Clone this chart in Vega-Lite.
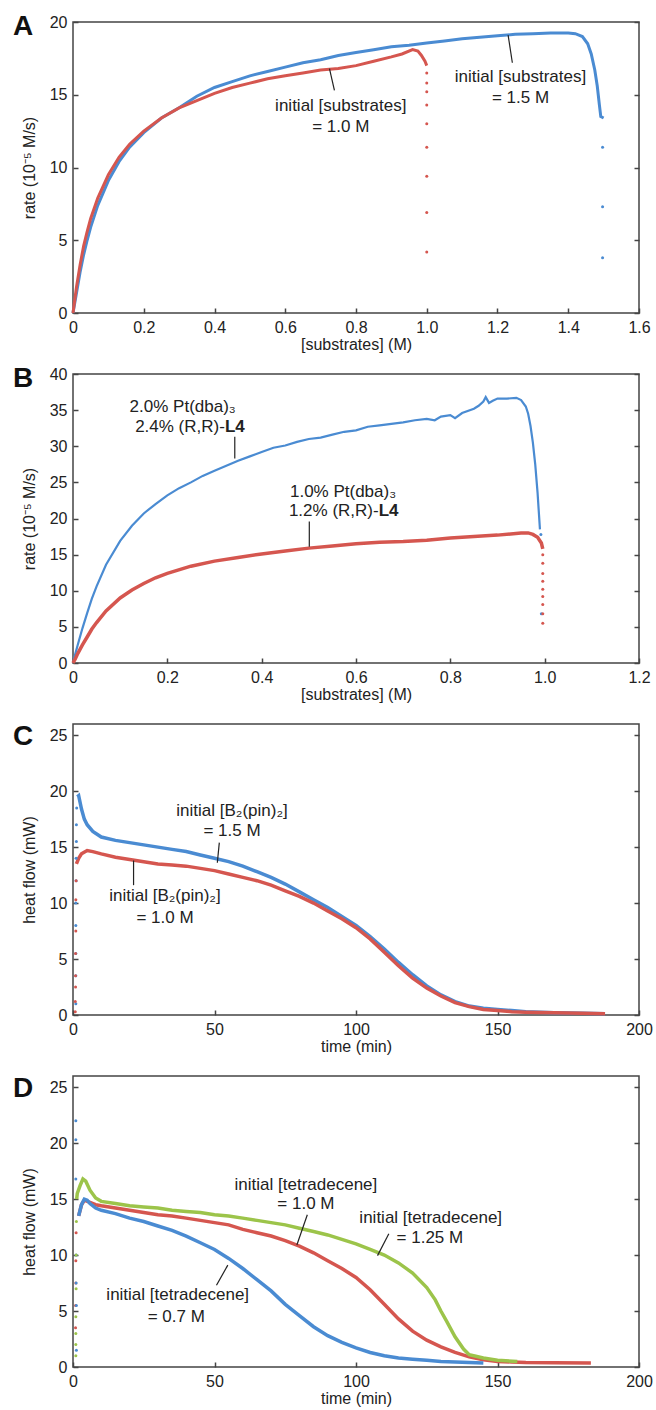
{
  "$schema": "https://vega.github.io/schema/vega-lite/v6.json",
  "padding": {"left": 12, "top": 12, "right": 0, "bottom": 0},
  "background": "white",
  "config": {
    "font": "Liberation Sans",
    "view": {"stroke": "#444", "strokeWidth": 1.5},
    "axis": {"grid": false, "domain": false, "labelFontSize": 16, "labelColor": "#222", "titleFontSize": 16, "titleFontWeight": "normal", "titleColor": "#222", "tickSize": -5, "tickColor": "#444", "tickWidth": 1.5, "labelOverlap": false, "labelFlush": false},
    "axisX": {"labelPadding": 11, "titlePadding": 1},
    "axisY": {"labelPadding": 11, "titlePadding": 12},
    "title": {"anchor": "start", "frame": "group", "fontSize": 28, "fontWeight": "bold", "color": "#111", "dx": -60, "offset": -27, "baseline": "alphabetic"}
  },
  "datasets": {
    "A": [
      {"s":"blue","k":"l","x":0,"y":0},{"s":"blue","k":"l","x":0.01,"y":1.4},{"s":"blue","k":"l","x":0.02,"y":2.8},{"s":"blue","k":"l","x":0.03,"y":4.0},{"s":"blue","k":"l","x":0.04,"y":5.0},{"s":"blue","k":"l","x":0.05,"y":5.9},{"s":"blue","k":"l","x":0.07,"y":7.4},{"s":"blue","k":"l","x":0.1,"y":9.1},{"s":"blue","k":"l","x":0.13,"y":10.4},{"s":"blue","k":"l","x":0.16,"y":11.4},{"s":"blue","k":"l","x":0.2,"y":12.4},{"s":"blue","k":"l","x":0.25,"y":13.4},{"s":"blue","k":"l","x":0.3,"y":14.1},{"s":"blue","k":"l","x":0.35,"y":14.9},{"s":"blue","k":"l","x":0.4,"y":15.5},{"s":"blue","k":"l","x":0.45,"y":15.9},{"s":"blue","k":"l","x":0.5,"y":16.3},{"s":"blue","k":"l","x":0.55,"y":16.6},{"s":"blue","k":"l","x":0.6,"y":16.9},{"s":"blue","k":"l","x":0.65,"y":17.2},{"s":"blue","k":"l","x":0.7,"y":17.4},{"s":"blue","k":"l","x":0.75,"y":17.7},{"s":"blue","k":"l","x":0.8,"y":17.9},{"s":"blue","k":"l","x":0.85,"y":18.1},{"s":"blue","k":"l","x":0.9,"y":18.3},{"s":"blue","k":"l","x":0.95,"y":18.4},{"s":"blue","k":"l","x":1.0,"y":18.55},{"s":"blue","k":"l","x":1.05,"y":18.7},{"s":"blue","k":"l","x":1.1,"y":18.85},{"s":"blue","k":"l","x":1.15,"y":18.95},{"s":"blue","k":"l","x":1.2,"y":19.05},{"s":"blue","k":"l","x":1.25,"y":19.15},{"s":"blue","k":"l","x":1.3,"y":19.2},{"s":"blue","k":"l","x":1.35,"y":19.25},{"s":"blue","k":"l","x":1.4,"y":19.25},{"s":"blue","k":"l","x":1.42,"y":19.2},{"s":"blue","k":"l","x":1.44,"y":19.0},{"s":"blue","k":"l","x":1.455,"y":18.5},{"s":"blue","k":"l","x":1.465,"y":17.8},{"s":"blue","k":"l","x":1.475,"y":16.7},{"s":"blue","k":"l","x":1.482,"y":15.6},{"s":"blue","k":"l","x":1.488,"y":14.3},{"s":"blue","k":"l","x":1.492,"y":13.5},{"s":"blue","k":"l","x":1.5,"y":13.4},
      {"s":"blue","k":"p","x":1.497,"y":11.4},{"s":"blue","k":"p","x":1.497,"y":7.3},{"s":"blue","k":"p","x":1.497,"y":3.8},
      {"s":"red","k":"l","x":0,"y":0},{"s":"red","k":"l","x":0.01,"y":1.8},{"s":"red","k":"l","x":0.02,"y":3.3},{"s":"red","k":"l","x":0.03,"y":4.6},{"s":"red","k":"l","x":0.04,"y":5.6},{"s":"red","k":"l","x":0.05,"y":6.5},{"s":"red","k":"l","x":0.07,"y":7.9},{"s":"red","k":"l","x":0.1,"y":9.5},{"s":"red","k":"l","x":0.13,"y":10.7},{"s":"red","k":"l","x":0.16,"y":11.6},{"s":"red","k":"l","x":0.2,"y":12.5},{"s":"red","k":"l","x":0.25,"y":13.4},{"s":"red","k":"l","x":0.3,"y":14.1},{"s":"red","k":"l","x":0.35,"y":14.6},{"s":"red","k":"l","x":0.4,"y":15.1},{"s":"red","k":"l","x":0.45,"y":15.5},{"s":"red","k":"l","x":0.5,"y":15.8},{"s":"red","k":"l","x":0.55,"y":16.1},{"s":"red","k":"l","x":0.6,"y":16.3},{"s":"red","k":"l","x":0.65,"y":16.5},{"s":"red","k":"l","x":0.7,"y":16.7},{"s":"red","k":"l","x":0.75,"y":16.8},{"s":"red","k":"l","x":0.8,"y":17.0},{"s":"red","k":"l","x":0.85,"y":17.3},{"s":"red","k":"l","x":0.9,"y":17.6},{"s":"red","k":"l","x":0.93,"y":17.8},{"s":"red","k":"l","x":0.96,"y":18.1},{"s":"red","k":"l","x":0.975,"y":18.0},{"s":"red","k":"l","x":0.985,"y":17.7},{"s":"red","k":"l","x":0.995,"y":17.3},{"s":"red","k":"l","x":1.0,"y":17.0},
      {"s":"red","k":"p","x":1.0,"y":16.5},{"s":"red","k":"p","x":1.0,"y":15.8},{"s":"red","k":"p","x":1.0,"y":15.2},{"s":"red","k":"p","x":1.0,"y":14.3},{"s":"red","k":"p","x":1.0,"y":13.0},{"s":"red","k":"p","x":1.0,"y":11.4},{"s":"red","k":"p","x":1.0,"y":9.4},{"s":"red","k":"p","x":1.0,"y":6.9},{"s":"red","k":"p","x":1.0,"y":4.2}
    ],
    "Atext": [
      {"x":0.757,"y":14.2,"t":"initial [substrates]"},{"x":0.757,"y":12.8,"t":"= 1.0 M"},
      {"x":1.265,"y":16.2,"t":"initial [substrates]"},{"x":1.265,"y":14.8,"t":"= 1.5 M"}
    ],
    "Arule": [
      {"x":0.725,"y":16.8,"x2":0.739,"y2":15.3},{"x":1.23,"y":19.1,"x2":1.242,"y2":17.2}
    ],
    "B": [
      {"s":"blue","k":"l","x":0,"y":0},{"s":"blue","k":"l","x":0.005,"y":1.3},{"s":"blue","k":"l","x":0.01,"y":2.5},{"s":"blue","k":"l","x":0.02,"y":4.8},{"s":"blue","k":"l","x":0.03,"y":6.9},{"s":"blue","k":"l","x":0.04,"y":8.9},{"s":"blue","k":"l","x":0.05,"y":10.6},{"s":"blue","k":"l","x":0.07,"y":13.6},{"s":"blue","k":"l","x":0.1,"y":16.9},{"s":"blue","k":"l","x":0.125,"y":19.0},{"s":"blue","k":"l","x":0.15,"y":20.7},{"s":"blue","k":"l","x":0.175,"y":22.0},{"s":"blue","k":"l","x":0.2,"y":23.2},{"s":"blue","k":"l","x":0.225,"y":24.2},{"s":"blue","k":"l","x":0.25,"y":25.0},{"s":"blue","k":"l","x":0.275,"y":25.9},{"s":"blue","k":"l","x":0.3,"y":26.6},{"s":"blue","k":"l","x":0.325,"y":27.3},{"s":"blue","k":"l","x":0.35,"y":28.0},{"s":"blue","k":"l","x":0.375,"y":28.6},{"s":"blue","k":"l","x":0.4,"y":29.2},{"s":"blue","k":"l","x":0.425,"y":29.8},{"s":"blue","k":"l","x":0.45,"y":30.1},{"s":"blue","k":"l","x":0.475,"y":30.6},{"s":"blue","k":"l","x":0.5,"y":31.0},{"s":"blue","k":"l","x":0.525,"y":31.2},{"s":"blue","k":"l","x":0.55,"y":31.6},{"s":"blue","k":"l","x":0.575,"y":32.0},{"s":"blue","k":"l","x":0.6,"y":32.2},{"s":"blue","k":"l","x":0.625,"y":32.7},{"s":"blue","k":"l","x":0.65,"y":32.9},{"s":"blue","k":"l","x":0.675,"y":33.1},{"s":"blue","k":"l","x":0.7,"y":33.3},{"s":"blue","k":"l","x":0.725,"y":33.6},{"s":"blue","k":"l","x":0.75,"y":33.8},{"s":"blue","k":"l","x":0.767,"y":33.6},{"s":"blue","k":"l","x":0.78,"y":34.1},{"s":"blue","k":"l","x":0.8,"y":34.3},{"s":"blue","k":"l","x":0.81,"y":33.9},{"s":"blue","k":"l","x":0.825,"y":34.6},{"s":"blue","k":"l","x":0.85,"y":35.2},{"s":"blue","k":"l","x":0.86,"y":35.6},{"s":"blue","k":"l","x":0.87,"y":36.2},{"s":"blue","k":"l","x":0.875,"y":36.8},{"s":"blue","k":"l","x":0.882,"y":36.0},{"s":"blue","k":"l","x":0.89,"y":36.3},{"s":"blue","k":"l","x":0.9,"y":36.6},{"s":"blue","k":"l","x":0.92,"y":36.6},{"s":"blue","k":"l","x":0.94,"y":36.7},{"s":"blue","k":"l","x":0.95,"y":36.4},{"s":"blue","k":"l","x":0.96,"y":35.5},{"s":"blue","k":"l","x":0.965,"y":34.5},{"s":"blue","k":"l","x":0.97,"y":32.8},{"s":"blue","k":"l","x":0.975,"y":30.5},{"s":"blue","k":"l","x":0.98,"y":27.5},{"s":"blue","k":"l","x":0.985,"y":23.5},{"s":"blue","k":"l","x":0.988,"y":20.5},{"s":"blue","k":"l","x":0.99,"y":18.5},
      {"s":"blue","k":"p","x":0.992,"y":17.8},{"s":"blue","k":"p","x":0.993,"y":6.8},
      {"s":"red","k":"l","x":0,"y":0},{"s":"red","k":"l","x":0.005,"y":0.6},{"s":"red","k":"l","x":0.01,"y":1.3},{"s":"red","k":"l","x":0.02,"y":2.5},{"s":"red","k":"l","x":0.03,"y":3.6},{"s":"red","k":"l","x":0.04,"y":4.7},{"s":"red","k":"l","x":0.05,"y":5.6},{"s":"red","k":"l","x":0.07,"y":7.2},{"s":"red","k":"l","x":0.1,"y":9.0},{"s":"red","k":"l","x":0.125,"y":10.1},{"s":"red","k":"l","x":0.15,"y":11.0},{"s":"red","k":"l","x":0.175,"y":11.8},{"s":"red","k":"l","x":0.2,"y":12.4},{"s":"red","k":"l","x":0.25,"y":13.4},{"s":"red","k":"l","x":0.3,"y":14.1},{"s":"red","k":"l","x":0.35,"y":14.6},{"s":"red","k":"l","x":0.4,"y":15.1},{"s":"red","k":"l","x":0.45,"y":15.5},{"s":"red","k":"l","x":0.5,"y":15.9},{"s":"red","k":"l","x":0.55,"y":16.2},{"s":"red","k":"l","x":0.6,"y":16.5},{"s":"red","k":"l","x":0.65,"y":16.7},{"s":"red","k":"l","x":0.7,"y":16.8},{"s":"red","k":"l","x":0.75,"y":17.0},{"s":"red","k":"l","x":0.8,"y":17.3},{"s":"red","k":"l","x":0.85,"y":17.5},{"s":"red","k":"l","x":0.9,"y":17.7},{"s":"red","k":"l","x":0.95,"y":18.0},{"s":"red","k":"l","x":0.965,"y":18.0},{"s":"red","k":"l","x":0.975,"y":17.8},{"s":"red","k":"l","x":0.985,"y":17.4},{"s":"red","k":"l","x":0.993,"y":16.6},{"s":"red","k":"l","x":0.996,"y":15.8},
      {"s":"red","k":"p","x":0.996,"y":15.0},{"s":"red","k":"p","x":0.996,"y":13.8},{"s":"red","k":"p","x":0.996,"y":12.4},{"s":"red","k":"p","x":0.996,"y":11.3},{"s":"red","k":"p","x":0.996,"y":10.2},{"s":"red","k":"p","x":0.996,"y":9.2},{"s":"red","k":"p","x":0.996,"y":8.1},{"s":"red","k":"p","x":0.996,"y":6.8},{"s":"red","k":"p","x":0.996,"y":5.5}
    ],
    "Btext": [
      {"x":0.12,"y":35.5,"t":"2.0% Pt(dba)₃"},{"x":0.46,"y":23.7,"t":"1.0% Pt(dba)₃"}
    ],
    "BtextR": [
      {"x":0.322,"y":32.7,"t":"2.4% (R,R)-"},{"x":0.648,"y":21.0,"t":"1.2% (R,R)-"}
    ],
    "BtextBold": [
      {"x":0.322,"y":32.7,"t":"L4"},{"x":0.648,"y":21.0,"t":"L4"}
    ],
    "Brule": [
      {"x":0.343,"y":28.3,"x2":0.343,"y2":31.3},{"x":0.501,"y":16.1,"x2":0.501,"y2":19.6}
    ],
    "C": [
      {"s":"blue","k":"p","x":1.0,"y":1.0},{"s":"blue","k":"p","x":1.0,"y":3.5},{"s":"blue","k":"p","x":1.0,"y":5.5},{"s":"blue","k":"p","x":1.0,"y":8.0},{"s":"blue","k":"p","x":1.0,"y":10.0},{"s":"blue","k":"p","x":1.1,"y":12.0},{"s":"blue","k":"p","x":1.1,"y":14.0},{"s":"blue","k":"p","x":1.2,"y":15.5},{"s":"blue","k":"p","x":1.2,"y":17.0},{"s":"blue","k":"p","x":1.3,"y":18.5},
      {"s":"blue","k":"l","x":1.5,"y":19.5},{"s":"blue","k":"l","x":2,"y":19.6},{"s":"blue","k":"l","x":3,"y":18.4},{"s":"blue","k":"l","x":4,"y":17.5},{"s":"blue","k":"l","x":5,"y":17.0},{"s":"blue","k":"l","x":7,"y":16.4},{"s":"blue","k":"l","x":10,"y":15.9},{"s":"blue","k":"l","x":15,"y":15.6},{"s":"blue","k":"l","x":20,"y":15.4},{"s":"blue","k":"l","x":25,"y":15.2},{"s":"blue","k":"l","x":30,"y":15.0},{"s":"blue","k":"l","x":35,"y":14.8},{"s":"blue","k":"l","x":40,"y":14.6},{"s":"blue","k":"l","x":45,"y":14.3},{"s":"blue","k":"l","x":50,"y":14.0},{"s":"blue","k":"l","x":55,"y":13.7},{"s":"blue","k":"l","x":60,"y":13.3},{"s":"blue","k":"l","x":65,"y":12.8},{"s":"blue","k":"l","x":70,"y":12.3},{"s":"blue","k":"l","x":75,"y":11.7},{"s":"blue","k":"l","x":80,"y":11.0},{"s":"blue","k":"l","x":85,"y":10.3},{"s":"blue","k":"l","x":90,"y":9.6},{"s":"blue","k":"l","x":95,"y":8.8},{"s":"blue","k":"l","x":100,"y":8.0},{"s":"blue","k":"l","x":105,"y":7.0},{"s":"blue","k":"l","x":110,"y":5.9},{"s":"blue","k":"l","x":115,"y":4.7},{"s":"blue","k":"l","x":120,"y":3.6},{"s":"blue","k":"l","x":125,"y":2.6},{"s":"blue","k":"l","x":130,"y":1.8},{"s":"blue","k":"l","x":135,"y":1.2},{"s":"blue","k":"l","x":140,"y":0.8},{"s":"blue","k":"l","x":145,"y":0.6},{"s":"blue","k":"l","x":150,"y":0.5},{"s":"blue","k":"l","x":155,"y":0.4},{"s":"blue","k":"l","x":160,"y":0.3},{"s":"blue","k":"l","x":170,"y":0.2},{"s":"blue","k":"l","x":180,"y":0.15},{"s":"blue","k":"l","x":188,"y":0.12},
      {"s":"red","k":"p","x":0.8,"y":0.3},{"s":"red","k":"p","x":0.8,"y":1.2},{"s":"red","k":"p","x":0.9,"y":2.5},{"s":"red","k":"p","x":0.9,"y":3.5},{"s":"red","k":"p","x":0.9,"y":5.5},{"s":"red","k":"p","x":1.0,"y":7.5},{"s":"red","k":"p","x":1.0,"y":10.3},{"s":"red","k":"p","x":1.1,"y":12.0},
      {"s":"red","k":"l","x":1.2,"y":13.5},{"s":"red","k":"l","x":2,"y":14.0},{"s":"red","k":"l","x":3,"y":14.4},{"s":"red","k":"l","x":5,"y":14.7},{"s":"red","k":"l","x":7,"y":14.6},{"s":"red","k":"l","x":10,"y":14.4},{"s":"red","k":"l","x":15,"y":14.1},{"s":"red","k":"l","x":20,"y":13.9},{"s":"red","k":"l","x":25,"y":13.7},{"s":"red","k":"l","x":30,"y":13.5},{"s":"red","k":"l","x":35,"y":13.4},{"s":"red","k":"l","x":40,"y":13.3},{"s":"red","k":"l","x":45,"y":13.1},{"s":"red","k":"l","x":50,"y":12.9},{"s":"red","k":"l","x":55,"y":12.6},{"s":"red","k":"l","x":60,"y":12.3},{"s":"red","k":"l","x":65,"y":12.0},{"s":"red","k":"l","x":70,"y":11.6},{"s":"red","k":"l","x":75,"y":11.1},{"s":"red","k":"l","x":80,"y":10.6},{"s":"red","k":"l","x":85,"y":10.0},{"s":"red","k":"l","x":90,"y":9.3},{"s":"red","k":"l","x":95,"y":8.6},{"s":"red","k":"l","x":100,"y":7.8},{"s":"red","k":"l","x":105,"y":6.8},{"s":"red","k":"l","x":110,"y":5.6},{"s":"red","k":"l","x":115,"y":4.4},{"s":"red","k":"l","x":120,"y":3.3},{"s":"red","k":"l","x":125,"y":2.4},{"s":"red","k":"l","x":130,"y":1.7},{"s":"red","k":"l","x":135,"y":1.1},{"s":"red","k":"l","x":140,"y":0.75},{"s":"red","k":"l","x":145,"y":0.5},{"s":"red","k":"l","x":150,"y":0.4},{"s":"red","k":"l","x":155,"y":0.3},{"s":"red","k":"l","x":160,"y":0.25},{"s":"red","k":"l","x":170,"y":0.2},{"s":"red","k":"l","x":180,"y":0.15},{"s":"red","k":"l","x":188,"y":0.12}
    ],
    "Ctext": [
      {"x":56.2,"y":18.2,"t":"initial [B₂(pin)₂]"},{"x":56.2,"y":16.4,"t":"= 1.5 M"},
      {"x":32.5,"y":10.6,"t":"initial [B₂(pin)₂]"},{"x":32.5,"y":8.7,"t":"= 1.0 M"}
    ],
    "Crule": [
      {"x":51.0,"y":13.6,"x2":51.7,"y2":15.4},{"x":21.4,"y":13.8,"x2":21.4,"y2":11.6}
    ],
    "D": [
      {"s":"red","k":"p","x":0.9,"y":3.5},{"s":"red","k":"p","x":0.9,"y":5.5},{"s":"red","k":"p","x":1.0,"y":7.5},{"s":"red","k":"p","x":1.0,"y":9.5},{"s":"red","k":"p","x":1.1,"y":12.0},
      {"s":"red","k":"l","x":2,"y":13.5},{"s":"red","k":"l","x":3,"y":14.5},{"s":"red","k":"l","x":4,"y":14.9},{"s":"red","k":"l","x":6,"y":14.7},{"s":"red","k":"l","x":8,"y":14.5},{"s":"red","k":"l","x":10,"y":14.4},{"s":"red","k":"l","x":15,"y":14.2},{"s":"red","k":"l","x":20,"y":14.0},{"s":"red","k":"l","x":25,"y":13.8},{"s":"red","k":"l","x":30,"y":13.6},{"s":"red","k":"l","x":35,"y":13.5},{"s":"red","k":"l","x":40,"y":13.3},{"s":"red","k":"l","x":45,"y":13.1},{"s":"red","k":"l","x":50,"y":12.9},{"s":"red","k":"l","x":55,"y":12.7},{"s":"red","k":"l","x":60,"y":12.3},{"s":"red","k":"l","x":65,"y":12.0},{"s":"red","k":"l","x":70,"y":11.7},{"s":"red","k":"l","x":75,"y":11.3},{"s":"red","k":"l","x":80,"y":10.8},{"s":"red","k":"l","x":85,"y":10.2},{"s":"red","k":"l","x":90,"y":9.5},{"s":"red","k":"l","x":95,"y":8.8},{"s":"red","k":"l","x":100,"y":8.0},{"s":"red","k":"l","x":105,"y":6.9},{"s":"red","k":"l","x":110,"y":5.6},{"s":"red","k":"l","x":115,"y":4.3},{"s":"red","k":"l","x":120,"y":3.2},{"s":"red","k":"l","x":125,"y":2.4},{"s":"red","k":"l","x":130,"y":1.8},{"s":"red","k":"l","x":135,"y":1.3},{"s":"red","k":"l","x":140,"y":0.9},{"s":"red","k":"l","x":145,"y":0.65},{"s":"red","k":"l","x":150,"y":0.5},{"s":"red","k":"l","x":155,"y":0.45},{"s":"red","k":"l","x":160,"y":0.4},{"s":"red","k":"l","x":170,"y":0.38},{"s":"red","k":"l","x":183,"y":0.35},
      {"s":"blue","k":"p","x":1.0,"y":22.0},{"s":"blue","k":"p","x":1.0,"y":20.3},{"s":"blue","k":"p","x":1.0,"y":16.8},{"s":"blue","k":"p","x":1.1,"y":10.0},{"s":"blue","k":"p","x":1.1,"y":7.5},{"s":"blue","k":"p","x":1.2,"y":5.5},{"s":"blue","k":"p","x":1.2,"y":1.5},
      {"s":"blue","k":"l","x":2,"y":13.5},{"s":"blue","k":"l","x":3,"y":14.5},{"s":"blue","k":"l","x":4,"y":15.0},{"s":"blue","k":"l","x":5,"y":14.9},{"s":"blue","k":"l","x":6,"y":14.6},{"s":"blue","k":"l","x":8,"y":14.2},{"s":"blue","k":"l","x":10,"y":14.0},{"s":"blue","k":"l","x":15,"y":13.7},{"s":"blue","k":"l","x":20,"y":13.3},{"s":"blue","k":"l","x":25,"y":13.0},{"s":"blue","k":"l","x":30,"y":12.6},{"s":"blue","k":"l","x":35,"y":12.2},{"s":"blue","k":"l","x":40,"y":11.7},{"s":"blue","k":"l","x":45,"y":11.1},{"s":"blue","k":"l","x":50,"y":10.5},{"s":"blue","k":"l","x":55,"y":9.7},{"s":"blue","k":"l","x":60,"y":8.8},{"s":"blue","k":"l","x":65,"y":7.8},{"s":"blue","k":"l","x":70,"y":6.8},{"s":"blue","k":"l","x":75,"y":5.6},{"s":"blue","k":"l","x":80,"y":4.6},{"s":"blue","k":"l","x":85,"y":3.6},{"s":"blue","k":"l","x":90,"y":2.8},{"s":"blue","k":"l","x":95,"y":2.2},{"s":"blue","k":"l","x":100,"y":1.7},{"s":"blue","k":"l","x":105,"y":1.3},{"s":"blue","k":"l","x":110,"y":1.0},{"s":"blue","k":"l","x":115,"y":0.8},{"s":"blue","k":"l","x":120,"y":0.7},{"s":"blue","k":"l","x":125,"y":0.6},{"s":"blue","k":"l","x":130,"y":0.5},{"s":"blue","k":"l","x":135,"y":0.45},{"s":"blue","k":"l","x":140,"y":0.4},{"s":"blue","k":"l","x":145,"y":0.35},
      {"s":"green","k":"p","x":1.0,"y":1.0},{"s":"green","k":"p","x":1.0,"y":2.0},{"s":"green","k":"p","x":1.0,"y":3.0},{"s":"green","k":"p","x":1.0,"y":4.5},{"s":"green","k":"p","x":1.1,"y":7.0},{"s":"green","k":"p","x":1.1,"y":10.0},{"s":"green","k":"p","x":1.2,"y":13.0},
      {"s":"green","k":"l","x":1.3,"y":15.0},{"s":"green","k":"l","x":1.5,"y":15.5},{"s":"green","k":"l","x":2.5,"y":16.2},{"s":"green","k":"l","x":3.5,"y":16.8},{"s":"green","k":"l","x":4.5,"y":16.6},{"s":"green","k":"l","x":6,"y":15.8},{"s":"green","k":"l","x":8,"y":15.1},{"s":"green","k":"l","x":10,"y":14.8},{"s":"green","k":"l","x":15,"y":14.6},{"s":"green","k":"l","x":20,"y":14.4},{"s":"green","k":"l","x":25,"y":14.3},{"s":"green","k":"l","x":30,"y":14.2},{"s":"green","k":"l","x":35,"y":14.0},{"s":"green","k":"l","x":40,"y":13.9},{"s":"green","k":"l","x":45,"y":13.8},{"s":"green","k":"l","x":50,"y":13.6},{"s":"green","k":"l","x":55,"y":13.5},{"s":"green","k":"l","x":60,"y":13.3},{"s":"green","k":"l","x":65,"y":13.1},{"s":"green","k":"l","x":70,"y":12.9},{"s":"green","k":"l","x":75,"y":12.7},{"s":"green","k":"l","x":80,"y":12.4},{"s":"green","k":"l","x":85,"y":12.1},{"s":"green","k":"l","x":90,"y":11.8},{"s":"green","k":"l","x":95,"y":11.4},{"s":"green","k":"l","x":100,"y":11.0},{"s":"green","k":"l","x":105,"y":10.5},{"s":"green","k":"l","x":110,"y":10.0},{"s":"green","k":"l","x":115,"y":9.3},{"s":"green","k":"l","x":120,"y":8.4},{"s":"green","k":"l","x":125,"y":7.1},{"s":"green","k":"l","x":128,"y":6.0},{"s":"green","k":"l","x":130,"y":5.0},{"s":"green","k":"l","x":132,"y":4.1},{"s":"green","k":"l","x":135,"y":2.7},{"s":"green","k":"l","x":138,"y":1.6},{"s":"green","k":"l","x":140,"y":1.1},{"s":"green","k":"l","x":145,"y":0.8},{"s":"green","k":"l","x":150,"y":0.6},{"s":"green","k":"l","x":157,"y":0.5}
    ],
    "Dtext": [
      {"x":82.3,"y":16.3,"t":"initial [tetradecene]"},{"x":82.3,"y":14.6,"t":"= 1.0 M"},
      {"x":126.4,"y":13.3,"t":"initial [tetradecene]"},{"x":126.1,"y":11.5,"t":"= 1.25 M"},
      {"x":37.0,"y":6.4,"t":"initial [tetradecene]"},{"x":36.5,"y":4.5,"t":"= 0.7 M"}
    ],
    "Drule": [
      {"x":79.1,"y":10.9,"x2":82.8,"y2":13.6},{"x":107.6,"y":9.95,"x2":111.6,"y2":11.9},{"x":54.7,"y":9.1,"x2":50.7,"y2":7.3}
    ]
  },
  "spacing": 61,
  "bounds": "flush",
  "vconcat": [
    {
      "width": 566, "height": 291,
      "title": {"text": "A"},
      "layer": [
        {"layer": [
          {"data": {"name": "A"}, "transform": [{"filter": "datum.k == 'l'"}],
           "mark": {"type": "line", "strokeWidth": 3},
           "encoding": {
             "x": {"field": "x", "type": "quantitative", "scale": {"domain": [0, 1.6]}, "axis": {"values": [0,0.2,0.4,0.6,0.8,1.0,1.2,1.4,1.6], "labelExpr": "datum.value == 0 ? '0' : format(datum.value, '.1f')", "title": "[substrates] (M)"}},
             "y": {"field": "y", "type": "quantitative", "scale": {"domain": [0, 20]}, "axis": {"values": [0,5,10,15,20], "title": "rate (10⁻⁵ M/s)", "orient": "left", "labelOverlap": false}},
             "color": {"field": "s", "type": "nominal", "scale": {"domain": ["blue","red","green"], "range": ["#4a8bd2","#d5564f","#9cc44a"]}, "legend": null}
           }},
          {"data": {"name": "A"}, "transform": [{"filter": "datum.k == 'p'"}],
           "mark": {"type": "circle", "size": 9, "opacity": 1},
           "encoding": {"x": {"field": "x", "type": "quantitative"}, "y": {"field": "y", "type": "quantitative"}, "color": {"field": "s", "type": "nominal", "legend": null}}},
          {"data": {"name": "Arule"}, "mark": {"type": "rule", "color": "#222", "strokeWidth": 1.2},
           "encoding": {"x": {"field": "x", "type": "quantitative"}, "y": {"field": "y", "type": "quantitative"}, "x2": {"field": "x2"}, "y2": {"field": "y2"}}},
          {"data": {"name": "Atext"}, "mark": {"type": "text", "fontSize": 17, "color": "#222", "align": "center", "baseline": "middle"},
           "encoding": {"x": {"field": "x", "type": "quantitative"}, "y": {"field": "y", "type": "quantitative"}, "text": {"field": "t"}}}
        ]},
        {"data": {"name": "A"}, "mark": {"type": "line", "opacity": 0},
         "encoding": {"x": {"field": "x", "type": "quantitative"}, "y": {"field": "y", "type": "quantitative", "axis": {"orient": "right", "values": [0,5,10,15,20], "labels": false, "title": null}}, "detail": {"field": "s"}}}
      ],
      "resolve": {"axis": {"y": "independent"}}
    },
    {
      "width": 566, "height": 289,
      "title": {"text": "B"},
      "layer": [
        {"layer": [
          {"data": {"name": "B"}, "transform": [{"filter": "datum.k == 'l' && datum.s == 'blue'"}],
           "mark": {"type": "line", "strokeWidth": 2.2, "color": "#4a8bd2"},
           "encoding": {
             "x": {"field": "x", "type": "quantitative", "scale": {"domain": [0, 1.2]}, "axis": {"values": [0,0.2,0.4,0.6,0.8,1.0,1.2], "labelExpr": "datum.value == 0 ? '0' : format(datum.value, '.1f')", "title": "[substrates] (M)"}},
             "y": {"field": "y", "type": "quantitative", "scale": {"domain": [0, 40]}, "axis": {"values": [0,5,10,15,20,25,30,35,40], "title": "rate (10⁻⁵ M/s)", "orient": "left", "labelOverlap": false, "tickCount": 9}}
           }},
          {"data": {"name": "B"}, "transform": [{"filter": "datum.k == 'l' && datum.s == 'red'"}],
           "mark": {"type": "line", "strokeWidth": 3.5, "color": "#d5564f"},
           "encoding": {"x": {"field": "x", "type": "quantitative"}, "y": {"field": "y", "type": "quantitative"}}},
          {"data": {"name": "B"}, "transform": [{"filter": "datum.k == 'p'"}],
           "mark": {"type": "circle", "size": 9, "opacity": 1},
           "encoding": {"x": {"field": "x", "type": "quantitative"}, "y": {"field": "y", "type": "quantitative"}, "color": {"field": "s", "type": "nominal", "scale": {"domain": ["blue","red","green"], "range": ["#4a8bd2","#d5564f","#9cc44a"]}, "legend": null}}},
          {"data": {"name": "Brule"}, "mark": {"type": "rule", "color": "#222", "strokeWidth": 1.2},
           "encoding": {"x": {"field": "x", "type": "quantitative"}, "y": {"field": "y", "type": "quantitative"}, "x2": {"field": "x2"}, "y2": {"field": "y2"}}},
          {"data": {"name": "Btext"}, "mark": {"type": "text", "fontSize": 17, "color": "#222", "align": "left", "baseline": "middle"},
           "encoding": {"x": {"field": "x", "type": "quantitative"}, "y": {"field": "y", "type": "quantitative"}, "text": {"field": "t"}}},
          {"data": {"name": "BtextR"}, "mark": {"type": "text", "fontSize": 17, "color": "#222", "align": "right", "baseline": "middle"},
           "encoding": {"x": {"field": "x", "type": "quantitative"}, "y": {"field": "y", "type": "quantitative"}, "text": {"field": "t"}}},
          {"data": {"name": "BtextBold"}, "mark": {"type": "text", "fontSize": 17, "fontWeight": "bold", "color": "#222", "align": "left", "baseline": "middle"},
           "encoding": {"x": {"field": "x", "type": "quantitative"}, "y": {"field": "y", "type": "quantitative"}, "text": {"field": "t"}}}
        ]},
        {"data": {"name": "B"}, "mark": {"type": "line", "opacity": 0},
         "encoding": {"x": {"field": "x", "type": "quantitative"}, "y": {"field": "y", "type": "quantitative", "axis": {"orient": "right", "values": [0,5,10,15,20,25,30,35,40], "labels": false, "title": null}}, "detail": {"field": "s"}}}
      ],
      "resolve": {"axis": {"y": "independent"}}
    },
    {
      "width": 566, "height": 291,
      "title": {"text": "C"},
      "layer": [
        {"layer": [
          {"data": {"name": "C"}, "transform": [{"filter": "datum.k == 'l'"}],
           "mark": {"type": "line", "strokeWidth": 3.5},
           "encoding": {
             "x": {"field": "x", "type": "quantitative", "scale": {"domain": [0, 200]}, "axis": {"values": [0,50,100,150,200], "title": "time (min)"}},
             "y": {"field": "y", "type": "quantitative", "scale": {"domain": [0, 25]}, "axis": {"values": [0,5,10,15,20,25], "title": "heat flow (mW)", "orient": "left", "labelOverlap": false}},
             "color": {"field": "s", "type": "nominal", "scale": {"domain": ["blue","red","green"], "range": ["#4a8bd2","#d5564f","#9cc44a"]}, "legend": null}
           }},
          {"data": {"name": "C"}, "transform": [{"filter": "datum.k == 'p'"}],
           "mark": {"type": "circle", "size": 9, "opacity": 1},
           "encoding": {"x": {"field": "x", "type": "quantitative"}, "y": {"field": "y", "type": "quantitative"}, "color": {"field": "s", "type": "nominal", "legend": null}}},
          {"data": {"name": "Crule"}, "mark": {"type": "rule", "color": "#222", "strokeWidth": 1.2},
           "encoding": {"x": {"field": "x", "type": "quantitative"}, "y": {"field": "y", "type": "quantitative"}, "x2": {"field": "x2"}, "y2": {"field": "y2"}}},
          {"data": {"name": "Ctext"}, "mark": {"type": "text", "fontSize": 17, "color": "#222", "align": "center", "baseline": "middle"},
           "encoding": {"x": {"field": "x", "type": "quantitative"}, "y": {"field": "y", "type": "quantitative"}, "text": {"field": "t"}}}
        ]},
        {"data": {"name": "C"}, "mark": {"type": "line", "opacity": 0},
         "encoding": {"x": {"field": "x", "type": "quantitative"}, "y": {"field": "y", "type": "quantitative", "axis": {"orient": "right", "values": [0,5,10,15,20,25], "labels": false, "title": null}}, "detail": {"field": "s"}}}
      ],
      "resolve": {"axis": {"y": "independent"}}
    },
    {
      "width": 566, "height": 291,
      "title": {"text": "D"},
      "layer": [
        {"layer": [
          {"data": {"name": "D"}, "transform": [{"filter": "datum.k == 'l'"}],
           "mark": {"type": "line", "strokeWidth": 3.5},
           "encoding": {
             "x": {"field": "x", "type": "quantitative", "scale": {"domain": [0, 200]}, "axis": {"values": [0,50,100,150,200], "title": "time (min)"}},
             "y": {"field": "y", "type": "quantitative", "scale": {"domain": [0, 25]}, "axis": {"values": [0,5,10,15,20,25], "title": "heat flow (mW)", "orient": "left", "labelOverlap": false}},
             "color": {"field": "s", "type": "nominal", "scale": {"domain": ["blue","red","green"], "range": ["#4a8bd2","#d5564f","#9cc44a"]}, "legend": null}
           }},
          {"data": {"name": "D"}, "transform": [{"filter": "datum.k == 'p'"}],
           "mark": {"type": "circle", "size": 9, "opacity": 1},
           "encoding": {"x": {"field": "x", "type": "quantitative"}, "y": {"field": "y", "type": "quantitative"}, "color": {"field": "s", "type": "nominal", "legend": null}}},
          {"data": {"name": "Drule"}, "mark": {"type": "rule", "color": "#222", "strokeWidth": 1.2},
           "encoding": {"x": {"field": "x", "type": "quantitative"}, "y": {"field": "y", "type": "quantitative"}, "x2": {"field": "x2"}, "y2": {"field": "y2"}}},
          {"data": {"name": "Dtext"}, "mark": {"type": "text", "fontSize": 17, "color": "#222", "align": "center", "baseline": "middle"},
           "encoding": {"x": {"field": "x", "type": "quantitative"}, "y": {"field": "y", "type": "quantitative"}, "text": {"field": "t"}}}
        ]},
        {"data": {"name": "D"}, "mark": {"type": "line", "opacity": 0},
         "encoding": {"x": {"field": "x", "type": "quantitative"}, "y": {"field": "y", "type": "quantitative", "axis": {"orient": "right", "values": [0,5,10,15,20,25], "labels": false, "title": null}}, "detail": {"field": "s"}}}
      ],
      "resolve": {"axis": {"y": "independent"}}
    }
  ]
}
